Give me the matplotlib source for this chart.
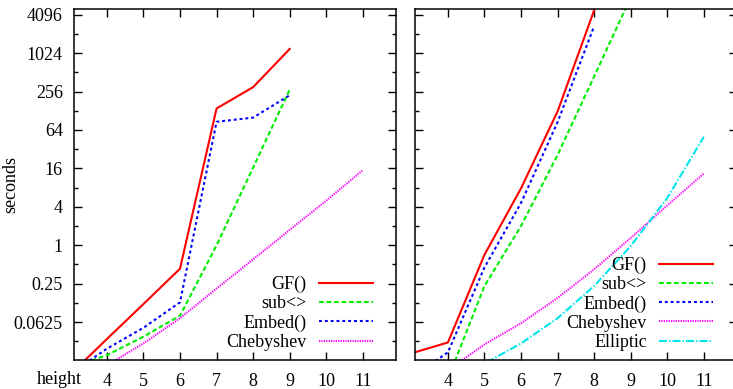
import numpy as np
from matplotlib import pyplot as plt
from matplotlib.ticker import FixedLocator, FixedFormatter, NullLocator

# Datos ---------------------------------------------------------------------------
heights = [3, 4, 5, 6, 7, 8, 9, 10, 11]
nan = np.nan

# panel izquierdo
gf_a = [0.0095, 0.034, 0.12, 0.43, 139, 300, 1190, nan, nan]
sub_a = [0.012, 0.019, 0.037, 0.079, 1.0, 16.5, 274, nan, nan]
embed_a = [0.0097, 0.024, 0.051, 0.128, 86, 100, 224, nan, nan]
cheb_a = [0.0055, 0.0132, 0.029, 0.072, 0.21, 0.6, 1.74, 5.0, 15.0]

# panel derecho
gf_b = [0.0203, 0.030, 0.71, 7.8, 125, 4800, nan, nan, nan]
sub_b = [0.003, 0.008, 0.23, 2.0, 26, 440, 7600, nan, nan]
embed_b = [0.0085, 0.021, 0.45, 4.6, 85, 2700, nan, nan, nan]
cheb_b = [0.0045, 0.011, 0.028, 0.06, 0.15, 0.42, 1.3, 4.2, 13.3]
ellip_b = [0.0015, 0.004, 0.014, 0.029, 0.072, 0.23, 0.97, 5.5, 50]

xtick_vals = [4, 5, 6, 7, 8, 9, 10, 11]
ytick_vals = [2.0 ** k for k in range(-4, 13, 2)]
ytick_labels = ["0.0625", "0.25", "1", "4", "16", "64", "256", "1024", "4096"]
yminor_vals = [2.0 ** k for k in range(-5, 13, 2)]

# Estilos tipo gnuplot --------------------------------------------------------------
estilos = {
    "GF()": dict(color="#ff0000", linestyle="-"),
    "sub<>": dict(color="#00ee00", linestyle=(0, (2.3, 1.3))),
    "Embed()": dict(color="#0000ff", linestyle=(0, (1.4, 1.4))),
    "Chebyshev": dict(color="#ff00ff", linestyle=(0, (0.6, 0.55))),
    "Elliptic": dict(color="#00e5ee", linestyle=(0, (3.8, 1.0, 0.7, 1.0))),
}

FUENTE = "Liberation Serif"
TAM = 13

plt.rcParams["font.family"] = [FUENTE, "DejaVu Serif"]


def preparar_ejes(ax, etiquetas_y):
    ax.set_yscale("log", base=2)
    ax.set_xlim(3.1, 11.9)
    ax.set_ylim(2.0 ** -5.97, 2.0 ** 12.28)
    ax.xaxis.set_major_locator(FixedLocator(xtick_vals))
    ax.xaxis.set_minor_locator(NullLocator())
    ax.set_xticklabels([str(v) for v in xtick_vals], fontsize=TAM)
    ax.yaxis.set_major_locator(FixedLocator(ytick_vals))
    ax.yaxis.set_minor_locator(FixedLocator(yminor_vals))
    if etiquetas_y:
        ax.yaxis.set_major_formatter(FixedFormatter(ytick_labels))
    else:
        ax.yaxis.set_major_formatter(FixedFormatter([""] * len(ytick_vals)))
    ax.yaxis.set_minor_formatter(FixedFormatter([]))
    ax.tick_params(which="both", direction="in", top=True, right=True,
                   width=1.0, color="black", labelsize=TAM)
    ax.tick_params(which="major", length=5.8)
    ax.tick_params(which="minor", length=2.9)
    ax.tick_params(axis="x", pad=9)
    ax.tick_params(axis="y", pad=8)
    for s in ax.spines.values():
        s.set_linewidth(1.1)


def leyenda(ax, x, y):
    ax.legend(loc="lower right", bbox_to_anchor=(x, y), markerfirst=False,
              frameon=False, handlelength=3.0, handletextpad=0.66,
              labelspacing=0.12, borderpad=0, borderaxespad=0,
              prop={"family": FUENTE, "size": TAM})


def grafico():
    fig = plt.figure(figsize=(7.33, 3.89), dpi=100)
    ax1 = fig.add_axes([74 / 733, 29 / 389, 321.7 / 733, 350.7 / 389])
    ax2 = fig.add_axes([415 / 733, 29 / 389, 321.7 / 733, 350.7 / 389])

    for nombre, datos in [("GF()", gf_a), ("sub<>", sub_a),
                          ("Embed()", embed_a), ("Chebyshev", cheb_a)]:
        ax1.plot(heights, datos, label=nombre, linewidth=1.5, **estilos[nombre])

    for nombre, datos in [("GF()", gf_b), ("sub<>", sub_b), ("Embed()", embed_b),
                          ("Chebyshev", cheb_b), ("Elliptic", ellip_b)]:
        ax2.plot(heights, datos, label=nombre, linewidth=1.5, **estilos[nombre])

    preparar_ejes(ax1, True)
    preparar_ejes(ax2, False)

    ax1.set_ylabel("seconds", fontsize=13)
    ax1.yaxis.set_label_coords(-0.171, 0.5)

    leyenda(ax1, 0.9285, 0.026)
    leyenda(ax2, 0.926, 0.026)

    fig.text(59 / 733, 1 - 380 / 389, "height", fontsize=TAM,
             ha="center", va="center")

    plt.savefig("out.png", dpi=100)


def main():
    grafico()


if __name__ == "__main__":
    main()
